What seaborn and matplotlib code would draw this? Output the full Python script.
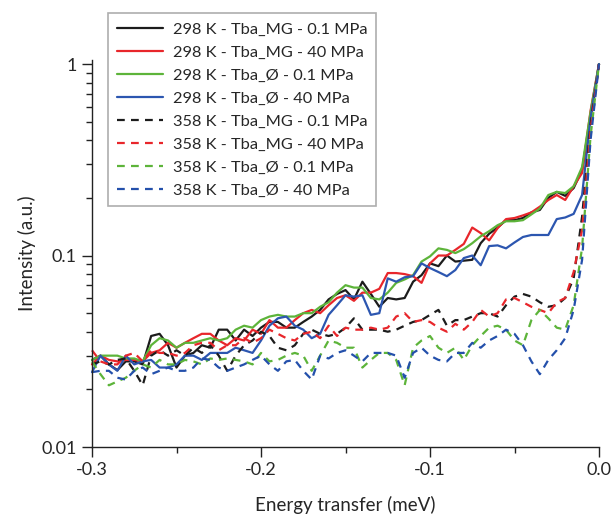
import numpy as np
import pandas as pd
import matplotlib
matplotlib.use("Agg")
import matplotlib.pyplot as plt
import seaborn as sns
from matplotlib.ticker import LogLocator, NullFormatter, MultipleLocator, FixedLocator

# --------------------------------------------------------------------------- #
# Data
# --------------------------------------------------------------------------- #
energy = np.round(np.arange(-0.300, 0.0001, 0.005), 3)

k298_mg_01 = [.0285, .030, .027, .0252, .028, .028, .027, .038, .039, .034,
              .026, .030, .031, .034, .033, .041, .041, .036, .041, .038,
              .042, .045, .045, .042, .042, .045, .048, .052, .059, .063,
              .066, .059, .073, .063, .054, .060, .059, .060, .073, .079,
              .091, .088, .100, .093, .094, .095, .116, .130, .140, .153,
              .153, .157, .168, .173, .200, .215, .205, .225, .280, .530,
              1.0]
k298_mg_40 = [.027, .030, .0285, .028, .0285, .0285, .028, .031, .032, .035,
              .033, .035, .037, .039, .039, .036, .034, .037, .036, .041,
              .039, .046, .042, .042, .046, .050, .052, .050, .055, .060,
              .062, .058, .064, .064, .067, .081, .081, .080, .078, .072,
              .091, .100, .100, .107, .115, .140, .131, .120, .139, .155,
              .157, .162, .168, .180, .195, .207, .195, .230, .270, .570,
              1.0]
k298_o_01 = [.0285, .030, .030, .030, .029, .029, .028, .034, .037, .036,
             .033, .035, .035, .036, .037, .036, .037, .041, .043, .042,
             .046, .048, .049, .048, .048, .050, .050, .054, .057, .064,
             .070, .068, .068, .060, .059, .064, .072, .075, .079, .093,
             .099, .109, .107, .103, .108, .116, .126, .134, .144, .151,
             .151, .153, .164, .176, .207, .215, .212, .230, .290, .560,
             1.0]
k298_o_40 = [.0246, .030, .027, .025, .030, .027, .028, .0285, .026, .026,
             .027, .030, .030, .0285, .031, .031, .031, .033, .032, .031,
             .036, .043, .047, .048, .043, .041, .037, .039, .049, .055,
             .062, .061, .062, .049, .050, .076, .073, .077, .078, .091,
             .086, .082, .078, .084, .097, .100, .089, .112, .113, .109,
             .117, .125, .128, .128, .128, .155, .158, .165, .207, .520,
             1.0]
k358_mg_01 = [.027, .028, .027, .0285, .029, .025, .021, .030, .032, .030,
              .032, .030, .033, .031, .034, .030, .025, .030, .034, .036,
              .040, .038, .033, .032, .034, .039, .041, .039, .038, .039,
              .042, .047, .041, .041, .041, .040, .041, .043, .045, .046,
              .049, .052, .043, .046, .046, .048, .050, .050, .048, .055,
              .061, .063, .061, .057, .054, .055, .060, .076, .160, .480,
              1.0]
k358_mg_40 = [.032, .028, .027, .027, .030, .031, .028, .032, .031, .031,
              .030, .031, .034, .035, .035, .032, .034, .034, .037, .035,
              .037, .041, .039, .037, .036, .039, .040, .037, .043, .038,
              .042, .041, .041, .042, .041, .042, .048, .050, .045, .046,
              .045, .042, .040, .044, .041, .045, .052, .048, .050, .059,
              .060, .057, .054, .052, .050, .057, .060, .082, .136, .450,
              1.0]
k358_o_01 = [.028, .024, .021, .022, .023, .025, .027, .026, .0285, .027,
             .027, .0285, .028, .027, .029, .0285, .029, .0285, .028, .027,
             .031, .028, .0285, .030, .031, .030, .025, .030, .036, .035,
             .033, .033, .026, .0285, .031, .031, .0285, .021, .033, .036,
             .038, .033, .031, .033, .0285, .034, .038, .042, .043, .041,
             .036, .034, .046, .052, .047, .042, .041, .055, .110, .420,
             1.0]
k358_o_40 = [.0246, .025, .025, .023, .0225, .025, .026, .024, .025, .026,
             .025, .025, .026, .029, .0285, .026, .025, .026, .027, .0285,
             .030, .027, .025, .028, .0285, .025, .0225, .030, .029, .031,
             .032, .030, .028, .031, .031, .031, .030, .023, .031, .033,
             .030, .0285, .028, .031, .031, .035, .033, .036, .038, .041,
             .039, .034, .028, .024, .0285, .032, .037, .052, .095, .400,
             1.0]

labels = ["298 K - Tba_MG - 0.1 MPa", "298 K - Tba_MG - 40 MPa",
          "298 K - Tba_Ø - 0.1 MPa", "298 K - Tba_Ø - 40 MPa",
          "358 K - Tba_MG - 0.1 MPa", "358 K - Tba_MG - 40 MPa",
          "358 K - Tba_Ø - 0.1 MPa", "358 K - Tba_Ø - 40 MPa"]
series = [k298_mg_01, k298_mg_40, k298_o_01, k298_o_40,
          k358_mg_01, k358_mg_40, k358_o_01, k358_o_40]

colors = ["#1c1c1c", "#e8262b", "#5db43a", "#2c56b0",
          "#1c1c1c", "#e8262b", "#5db43a", "#2450ab"]

# --------------------------------------------------------------------------- #
# Plot
# --------------------------------------------------------------------------- #
sns.set_style("ticks")
plt.rcParams["font.family"] = ["Lato", "DejaVu Sans"]

fig = plt.figure(figsize=(6.16, 5.18), dpi=100)
ax = fig.add_axes([92 / 616, 1 - 447 / 518, 507 / 616, 387 / 518])

for i, (lab, vals) in enumerate(zip(labels, series)):
    df = pd.DataFrame({"energy": energy, "intensity": vals})
    sns.lineplot(data=df, x="energy", y="intensity", ax=ax, color=colors[i],
                 linewidth=1.6, label=lab, clip_on=False,
                 linestyle="-" if i < 4 else (0, (3.5, 2.8)))

ax.set_yscale("log")
ax.set_xlim(-0.3, 0.0)
ax.set_ylim(0.01, 1.05)

ax.xaxis.set_major_locator(FixedLocator([-0.3, -0.2, -0.1, 0.0]))
ax.xaxis.set_minor_locator(MultipleLocator(0.05))
ax.set_xticklabels(["-0.3", "-0.2", "-0.1", "0.0"])
ax.yaxis.set_major_locator(FixedLocator([0.01, 0.1, 1]))
ax.set_yticklabels(["0.01", "0.1", "1"])
ax.yaxis.set_minor_locator(LogLocator(base=10, subs=np.arange(2, 10)))
ax.yaxis.set_minor_formatter(NullFormatter())

ax.tick_params(axis="both", which="major", direction="out", length=7,
               width=1.0, labelsize=13, color="#222222", pad=4)
ax.tick_params(axis="both", which="minor", direction="out", length=4,
               width=1.0, color="#222222")

sns.despine(ax=ax)
for side in ["left", "bottom"]:
    ax.spines[side].set_linewidth(1.0)
    ax.spines[side].set_color("#222222")

ax.set_xlabel("Energy transfer (meV)", fontsize=13.5, labelpad=13)
ax.set_ylabel("Intensity (a.u.)", fontsize=13.5, labelpad=4)

leg = ax.legend(loc="upper left", bbox_to_anchor=(108 / 616, 1 - 13 / 518),
                bbox_transform=fig.transFigure, frameon=True,
                fontsize=11.8, fancybox=False, edgecolor="#9a9a9a",
                handlelength=2.8, handletextpad=0.6, labelspacing=0.52,
                borderpad=0.55, borderaxespad=0)
leg.get_frame().set_linewidth(1.2)

fig.savefig("out.png", dpi=100)
